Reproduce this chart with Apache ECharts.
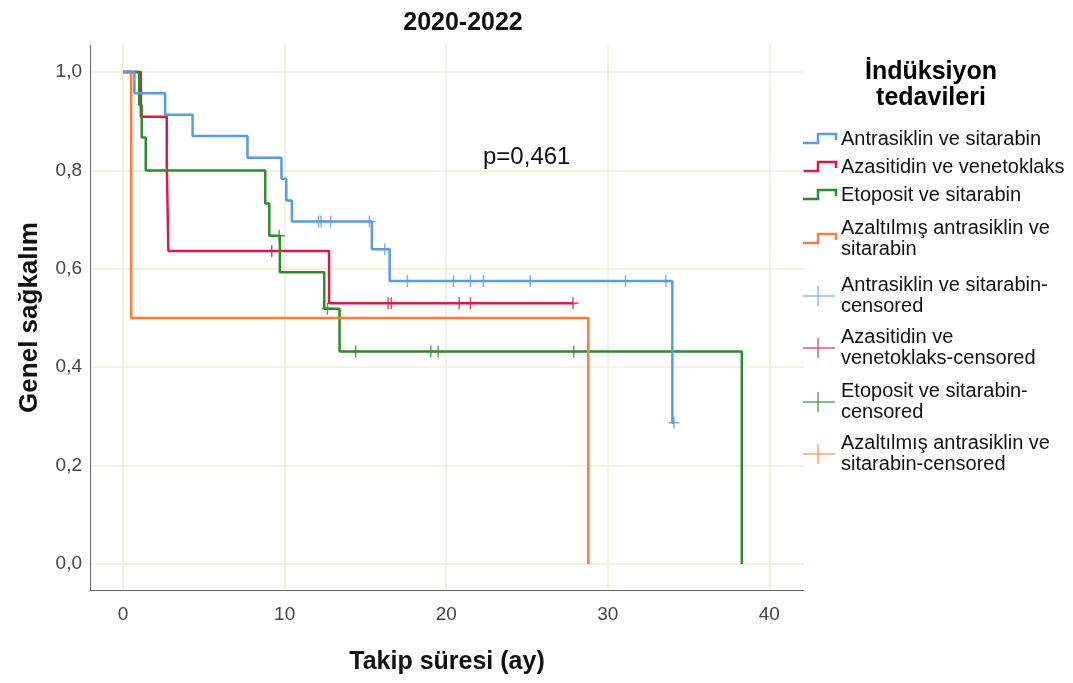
<!DOCTYPE html>
<html><head><meta charset="utf-8">
<script src="https://cdn.jsdelivr.net/npm/echarts@6/dist/echarts.min.js"></script>
<style>html,body{margin:0;padding:0;background:#fff}#c{width:1073px;height:683px}</style>
</head><body><div id="c"></div>
<script>
// ---- data ----
const chartTitle = '2020-2022';
const legendTitle = 'İndüksiyon\ntedavileri';
const groups = ['Antrasiklin ve sitarabin', 'Azasitidin ve venetoklaks', 'Etoposit ve sitarabin', 'Azaltılmış antrasiklin ve sitarabin'];
const groupLabels = ['Antrasiklin ve sitarabin', 'Azasitidin ve venetoklaks', 'Etoposit ve sitarabin', 'Azaltılmış antrasiklin ve\nsitarabin'];
const censorLabels = ['Antrasiklin ve sitarabin-\ncensored', 'Azasitidin ve\nvenetoklaks-censored', 'Etoposit ve sitarabin-\ncensored', 'Azaltılmış antrasiklin ve\nsitarabin-censored'];
const xTicks = [0, 10, 20, 30, 40];
const yTicks = [0, 0.2, 0.4, 0.6, 0.8, 1.0];
const pText = 'p=0,461';

// step curves: [time (months), survival]
const blueSteps = [[0,1],[0.7,0.957],[2.6,0.913],[4.3,0.870],[7.7,0.826],[9.8,0.783],[10.1,0.739],[10.45,0.696],[15.4,0.640],[16.5,0.575],[34.0,0.287],[34.1,0.287]];
const redSteps = [[0,1],[1.1,0.909],[2.7,0.818],[2.8,0.636],[12.75,0.530],[27.85,0.530]];
const greenSteps = [[0,1],[1.0,0.933],[1.15,0.867],[1.4,0.800],[8.8,0.733],[9.05,0.667],[9.7,0.593],[12.45,0.519],[13.4,0.432],[38.3,0]];
const orangeSteps = [[0,1],[0.5,0.5],[28.8,0]];

// censored observations
const blueCensor = [[12.1,0.696],[12.25,0.696],[12.85,0.696],[15.25,0.696],[16.2,0.640],[17.6,0.575],[20.45,0.575],[21.5,0.575],[22.3,0.575],[25.2,0.575],[31.1,0.575],[33.6,0.575],[34.1,0.287]];
const redCensor = [[9.2,0.636],[16.4,0.530],[16.6,0.530],[20.8,0.530],[21.5,0.530],[27.85,0.530]];
const greenCensor = [[9.66,0.667],[12.65,0.519],[14.4,0.432],[19.05,0.432],[19.5,0.432],[27.9,0.432]];
const orangeCensor = [];

// ---- style ----
const colors = ['#5b9be6', '#d81b48', '#2e8b2e', '#fb7d3c'];
const lightColors = ['#8cbaf0', '#e25a7c', '#5aa85a', '#fca576'];
const gridColor = '#f0ebda';
const FONT = '"Liberation Sans", Arial, sans-serif';

const steps = [blueSteps, redSteps, greenSteps, orangeSteps];
const censors = [blueCensor, redCensor, greenCensor, orangeCensor];
const plusPath = 'path://M0,5L10,5M5,0L5,10';

const series = [];
steps.forEach((d, i) => {
  series.push({
    type: 'line', name: groups[i], data: d, step: 'end', showSymbol: false, symbol: 'none',
    lineStyle: { color: colors[i], width: 2.5 }, z: 3 + (i === 0 ? 1 : 0), animation: false
  });
});
censors.forEach((d, i) => {
  series.push({
    type: 'scatter', name: groups[i] + '-censored', data: d, symbol: plusPath, symbolSize: [11, 12],
    itemStyle: { color: colors[i], borderColor: colors[i], borderWidth: 1.5 }, z: 5, animation: false
  });
});

// legend via graphics
const graphics = [];
const legX = 803, textX = 841;
graphics.push({ type: 'text', x: 931, y: 85, style: { text: legendTitle, font: 'bold 25px ' + FONT, fill: '#000', textAlign: 'center', textVerticalAlign: 'middle', lineHeight: 26 } });
const lineRows = [139, 167, 195, 239];
groupLabels.forEach((t, i) => {
  const c = lineRows[i];
  graphics.push({ type: 'polyline', shape: { points: [[legX, c + 4], [818, c + 4], [818, c - 5], [836, c - 5], [836, c + 1]] }, style: { stroke: colors[i], lineWidth: 2.5, fill: null } });
  graphics.push({ type: 'text', x: textX, y: c, style: { text: t, font: '20px ' + FONT, fill: '#111', textVerticalAlign: 'middle', lineHeight: 21 } });
});
const censorRows = [296, 348, 402, 454];
censorLabels.forEach((t, i) => {
  const c = censorRows[i];
  graphics.push({ type: 'line', shape: { x1: legX, y1: c, x2: 835, y2: c }, style: { stroke: lightColors[i], lineWidth: 1.5 } });
  graphics.push({ type: 'line', shape: { x1: 818, y1: c - 10, x2: 818, y2: c + 10 }, style: { stroke: lightColors[i], lineWidth: 1.5 } });
  graphics.push({ type: 'text', x: textX, y: c, style: { text: t, font: '20px ' + FONT, fill: '#111', textVerticalAlign: 'middle', lineHeight: 21 } });
});
graphics.push({ type: 'text', x: 483, y: 157, style: { text: pText, font: '24px ' + FONT, fill: '#111', textVerticalAlign: 'middle' } });

const chart = echarts.init(document.getElementById('c'));
chart.setOption({
  animation: false,
  backgroundColor: '#fff',
  title: { text: chartTitle, left: 458, top: 6, textAlign: 'center', textStyle: { fontFamily: FONT, fontWeight: 'bold', fontSize: 25, color: '#111' } },
  grid: { left: 90, right: 269, top: 45, bottom: 93 },
  xAxis: {
    type: 'value', min: -2.05, max: 42.15,
    name: 'Takip süresi (ay)', nameLocation: 'middle', nameGap: 60,
    nameTextStyle: { fontFamily: FONT, fontWeight: 'bold', fontSize: 25, color: '#111' },
    axisLine: { show: true, onZero: false, lineStyle: { color: '#666', width: 1 } },
    axisTick: { show: false, customValues: xTicks },
    axisLabel: { customValues: xTicks, fontFamily: FONT, fontSize: 19, color: '#444', margin: 15 },
    splitLine: { show: true, lineStyle: { color: gridColor, width: 1.5 } }
  },
  yAxis: {
    type: 'value', min: -0.053, max: 1.055,
    name: 'Genel sağkalım', nameLocation: 'middle', nameGap: 47,
    nameTextStyle: { fontFamily: FONT, fontWeight: 'bold', fontSize: 26, color: '#111' },
    axisLine: { show: true, onZero: false, lineStyle: { color: '#666', width: 1 } },
    axisTick: { show: false, customValues: yTicks },
    axisLabel: { customValues: yTicks, fontFamily: FONT, fontSize: 19, color: '#444', margin: 8,
      formatter: v => v.toFixed(1).replace('.', ',') },
    splitLine: { show: true, lineStyle: { color: gridColor, width: 1.5 } }
  },
  legend: { show: false },
  series: series,
  graphic: graphics
});
</script></body></html>
